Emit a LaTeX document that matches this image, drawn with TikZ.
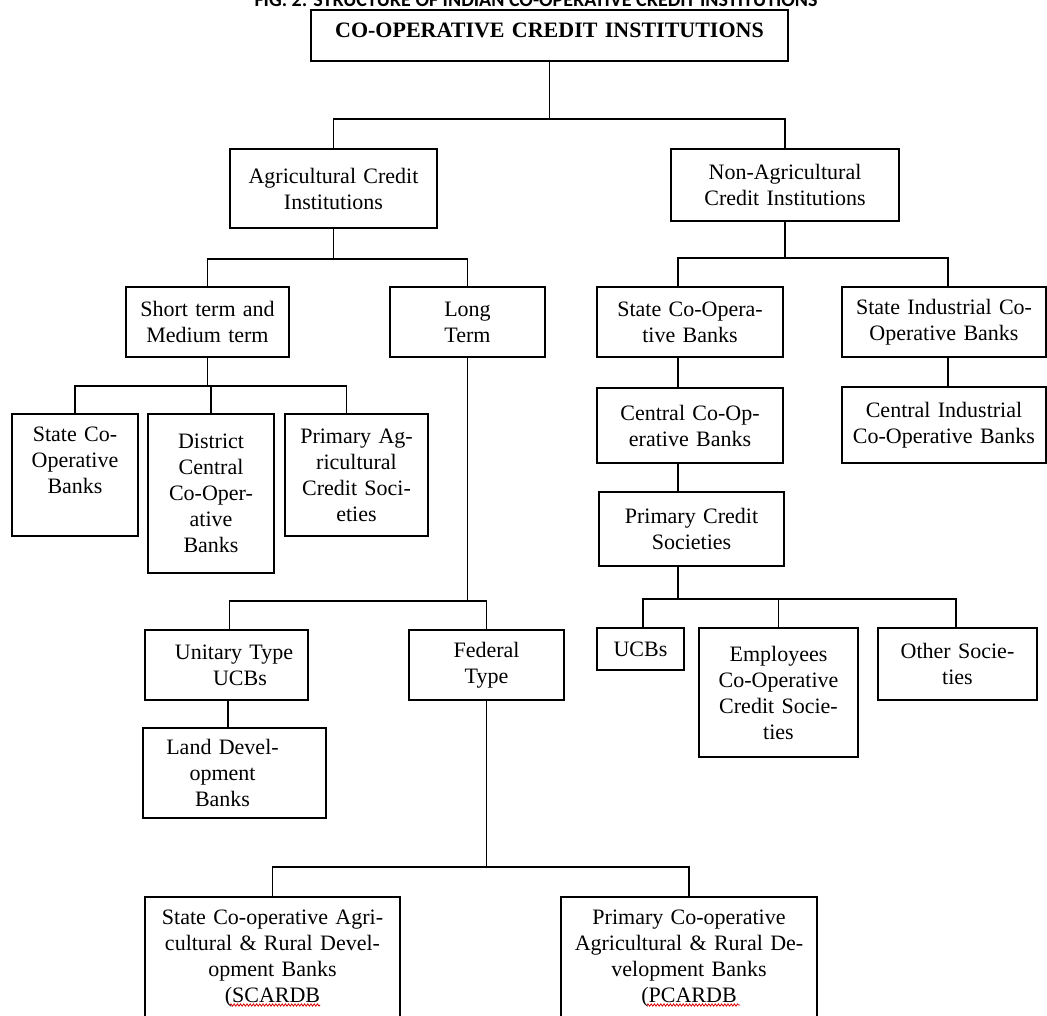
\documentclass[tikz,border=0pt]{standalone}
\usepackage{fontspec}
\setmainfont{Liberation Serif}
\newfontfamily\figfont{Carlito}
\usepackage{tikz}
\usetikzlibrary{decorations.pathmorphing}
\tikzset{
  % Plain chart box
  obox/.style={rectangle,draw=black,line width=1.6pt,
    align=center,inner xsep=3pt,inner ysep=4pt,
    font=\fontsize{22}{26}\selectfont,text=black},
  % Tree connector
  link/.style={line width=1.6pt,color=black},
  % Spell-check squiggle
  spell/.style={draw=red!85!black,line width=0.8pt,decorate,
    decoration={snake,amplitude=1.1pt,segment length=3.2pt}},
}
\begin{document}
\begin{tikzpicture}[x=1pt,y=-1pt]
  \path[use as bounding box,fill=white] (0,0) rectangle (1047,1015);

  % Caption (cut at the top edge)
  \node[font=\figfont\bfseries\fontsize{20}{24}\selectfont,anchor=base,inner sep=0pt]
    (cap) at (536,6) {FIG. 2: STRUCTURE OF INDIAN CO-OPERATIVE CREDIT INSTITUTIONS};

  % Root
  \node[obox,minimum width=477pt,text width=471pt,minimum height=51pt,
    text depth=10pt,font=\fontsize{22}{26}\selectfont\bfseries] (coop) at (549.5,35.5)
    {CO-OPERATIVE CREDIT INSTITUTIONS};

  % Two branches
  \node[obox,minimum width=207pt,text width=201pt,minimum height=79pt] (agri) at (333.5,188.5)
    {Agricultural Credit\\Institutions};
  \node[obox,minimum width=228pt,text width=222pt,minimum height=72pt] (nonagri) at (785,185)
    {Non-Agricultural\\Credit Institutions};

  % Agricultural side
  \node[obox,minimum width=163pt,text width=157pt,minimum height=70pt] (short) at (207.5,322)
    {Short term and\\Medium term};
  \node[obox,minimum width=155pt,text width=149pt,minimum height=70pt] (long) at (467.5,322)
    {Long\\Term};
  \node[obox,minimum width=126pt,text width=120pt,minimum height=122pt,text depth=82pt] (scb) at (75,475)
    {State Co-\\Operative\\Banks};
  \node[obox,minimum width=126pt,text width=120pt,minimum height=159pt] (dccb) at (211,493.5)
    {District\\Central\\Co-Oper-\\ative\\Banks};
  \node[obox,minimum width=143pt,text width=137pt,minimum height=122pt] (pacs) at (356.5,475)
    {Primary Ag-\\ricultural\\Credit Soci-\\eties};
  \node[obox,minimum width=163pt,text width=157pt,minimum height=70pt] (unitary) at (226.5,665)
    {\hspace*{15pt}Unitary Type\\\hspace*{27pt}UCBs};
  \node[obox,minimum width=155pt,text width=149pt,minimum height=70pt] (federal) at (486.5,665)
    {Federal\\Type};
  \node[obox,minimum width=183pt,text width=177pt,minimum height=90pt] (ldb) at (234.5,773)
    {\hspace*{-24pt}Land Devel-\\\hspace*{-24pt}opment\\\hspace*{-24pt}Banks};
  \node[obox,anchor=north,minimum width=255pt,text width=249pt,inner ysep=13pt,
    text depth=140pt] (scardb) at (272.5,896)
    {State Co-operative Agri-\\cultural \& Rural Devel-\\opment Banks\\(SCARDB};
  \node[obox,anchor=north,minimum width=256pt,text width=250pt,inner ysep=13pt,
    text depth=140pt] (pcardb) at (689,896)
    {Primary Co-operative\\Agricultural \& Rural De-\\velopment Banks\\(PCARDB};

  % Non-agricultural side
  \node[obox,minimum width=186pt,text width=180pt,minimum height=70pt] (scob) at (690,322)
    {State Co-Opera-\\tive Banks};
  \node[obox,minimum width=204pt,text width=198pt,minimum height=70pt] (sicb) at (944,322)
    {State Industrial Co-\\Operative Banks};
  \node[obox,minimum width=186pt,text width=180pt,minimum height=75pt] (ccb) at (690,425.5)
    {Central Co-Op-\\erative Banks};
  \node[obox,minimum width=204pt,text width=198pt,minimum height=76pt] (cicb) at (944,425)
    {Central Industrial\\Co-Operative Banks};
  \node[obox,minimum width=185pt,text width=179pt,minimum height=74pt] (pcs) at (691.5,529)
    {Primary Credit\\Societies};
  \node[obox,minimum width=87pt,text width=81pt,minimum height=42pt] (ucbs) at (640.5,649)
    {UCBs};
  \node[obox,minimum width=159pt,text width=153pt,minimum height=129pt] (ecs) at (778.5,692.5)
    {Employees\\Co-Operative\\Credit Socie-\\ties};
  \node[obox,minimum width=159pt,text width=153pt,minimum height=72pt] (others) at (957.5,664)
    {Other Socie-\\ties};

  % Connectors
  \draw[link] (coop.south) -- ++(0,57) -| (agri.north);
  \draw[link] (coop.south) -- ++(0,57) -| (nonagri.north);
  \draw[link] (agri.south) -- ++(0,30) -| (short.north);
  \draw[link] (agri.south) -- ++(0,30) -| (long.north);
  \draw[link] (short.south) -- ++(0,28) -| (scb.north);
  \draw[link] (short.south) -- ++(0,28) -| (dccb.north);
  \draw[link] (short.south) -- ++(0,28) -| ([xshift=-10pt]pacs.north);
  \draw[link] (long.south) -- ++(0,243) -| ([xshift=3pt]unitary.north);
  \draw[link] (long.south) -- ++(0,243) -| (federal.north);
  \draw[link] ([xshift=1.5pt]unitary.south) -- ([xshift=1.5pt]unitary.south |- ldb.north);
  \draw[link] (federal.south) -- ++(0,166) -| (scardb.north);
  \draw[link] (federal.south) -- ++(0,166) -| (pcardb.north);
  \draw[link] (nonagri.south) -- ++(0,36) -| ([xshift=-12pt]scob.north);
  \draw[link] (nonagri.south) -- ++(0,36) -| ([xshift=4pt]sicb.north);
  \draw[link] ([xshift=-12pt]scob.south) -- ([xshift=-12pt]ccb.north);
  \draw[link] ([xshift=4pt]sicb.south) -- ([xshift=4pt]cicb.north);
  \draw[link] ([xshift=-12pt]ccb.south) -- ([xshift=-12pt]ccb.south |- pcs.north);
  \draw[link] ([xshift=-13.5pt]pcs.south) -- ++(0,32) -| ([xshift=2.5pt]ucbs.north);
  \draw[link] ([xshift=-13.5pt]pcs.south) -- ++(0,32) -| (ecs.north);
  \draw[link] ([xshift=-13.5pt]pcs.south) -- ++(0,32) -| ([xshift=-1.5pt]others.north);

  % Spell-check marks
  \draw[spell] ([xshift=-42.5pt,yshift=-109pt]scardb.north) -- ++(90,0);
  \draw[spell] ([xshift=-42pt,yshift=-109pt]pcardb.north) -- ++(93,0);
\end{tikzpicture}
\end{document}
